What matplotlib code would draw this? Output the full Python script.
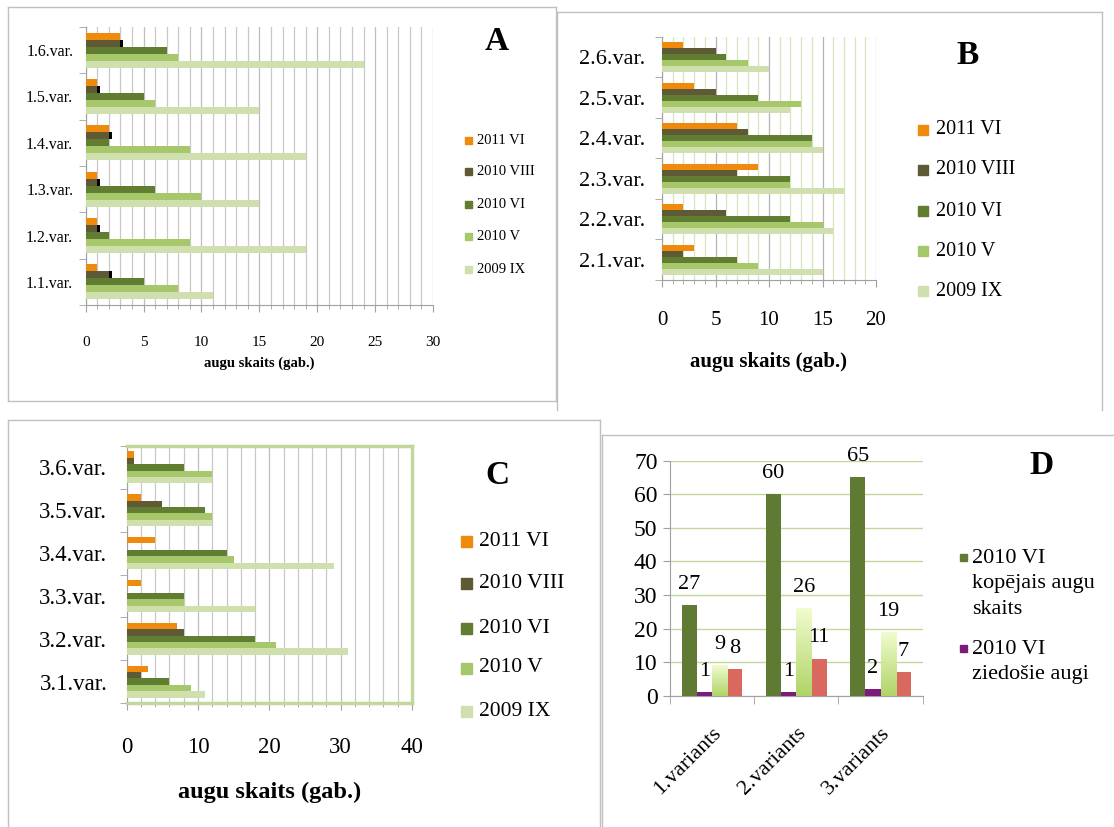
import matplotlib
matplotlib.use('Agg')
import matplotlib.pyplot as plt
import numpy as np
from matplotlib.patches import Rectangle
from matplotlib.lines import Line2D
from matplotlib.ticker import MultipleLocator, FixedLocator
from matplotlib.colors import LinearSegmentedColormap

plt.rcParams['font.family'] = ['Liberation Serif', 'DejaVu Serif']

# ---------------- data ----------------
series = ['2011 VI', '2010 VIII', '2010 VI', '2010 V', '2009 IX']
series_colors = ['#F08A0C', '#5E5A36', '#607D32', '#A6C86B', '#CFE0AE']

a_cats = ['1.1.var.', '1.2.var.', '1.3.var.', '1.4.var.', '1.5.var.', '1.6.var.']
a_2011_vi = [1, 1, 1, 2, 1, 3]
a_2010_viii = [2, 1, 1, 2, 1, 3]
a_2010_vi = [5, 2, 6, 2, 5, 7]
a_2010_v = [8, 9, 10, 9, 6, 8]
a_2009_ix = [11, 19, 15, 19, 15, 24]

b_cats = ['2.1.var.', '2.2.var.', '2.3.var.', '2.4.var.', '2.5.var.', '2.6.var.']
b_2011_vi = [3, 2, 9, 7, 3, 2]
b_2010_viii = [2, 6, 7, 8, 5, 5]
b_2010_vi = [7, 12, 12, 14, 9, 6]
b_2010_v = [9, 15, 12, 14, 13, 8]
b_2009_ix = [15, 16, 17, 15, 12, 10]

c_cats = ['3.1.var.', '3.2.var.', '3.3.var.', '3.4.var.', '3.5.var.', '3.6.var.']
c_2011_vi = [3, 7, 2, 4, 2, 1]
c_2010_viii = [2, 8, 0, 0, 5, 1]
c_2010_vi = [6, 18, 8, 14, 11, 8]
c_2010_v = [9, 21, 8, 15, 12, 12]
c_2009_ix = [11, 31, 18, 29, 12, 12]

d_cats = ['1.variants', '2.variants', '3.variants']
d_total = [27, 60, 65]
d_flowering = [1, 1, 2]
d_third = [9, 26, 19]
d_fourth = [8, 11, 7]
d_labels = ['2010 VI\nkopējais augu\nskaits', '2010 VI\nziedošie augi']

# ---------------- layout helpers ----------------
W, H = 1114, 827
fig = plt.figure(figsize=(W / 100, H / 100), dpi=100)


def fx(x):
    return x / W


def fy(y):
    return 1 - y / H


def ax_rect(l, t, r, b):
    return [fx(l), fy(b), (r - l) / W, (b - t) / H]


def frame_line(x0, y0, x1, y1, color='#C0C0C0'):
    fig.add_artist(Line2D([fx(x0), fx(x1)], [fy(y0), fy(y1)],
                          transform=fig.transFigure, color=color, lw=1.0))


# panel frames
frame_line(8, 7, 556, 7); frame_line(8, 7, 8, 401)
frame_line(556, 7, 556, 401); frame_line(8, 401, 556, 401)
frame_line(557, 12, 1102, 12); frame_line(557, 12, 557, 410)
frame_line(1102, 12, 1102, 410)
frame_line(8, 420, 600, 420); frame_line(8, 420, 8, 827)
frame_line(600, 420, 600, 827)
frame_line(602, 435, 1114, 435); frame_line(602, 435, 602, 827)


def hpanel(rect, cats, data, xmax, major, minor, fs_cat, fs_tick, fs_lab,
           minor_color, major_color, ypad, xpad, labelpad, marks=None):
    ax = fig.add_axes(rect)
    n = len(cats)
    y = np.arange(n)
    h = 0.15
    for k, (vals, col) in enumerate(zip(data, series_colors)):
        ax.barh(y + (2 - k) * h, vals, height=h, color=col, zorder=3,
                label=series[k])
    if marks is not None:
        ax.barh(y + 1 * h, [0.25] * n, left=marks, height=h, color='black', zorder=4)
    ax.set_xlim(0, xmax)
    ax.set_ylim(-0.5, n - 0.5)
    ax.set_yticks(y)
    ax.set_yticklabels(cats, fontsize=fs_cat)
    ax.yaxis.set_minor_locator(FixedLocator(np.arange(-0.5, n, 1.0)))
    ax.tick_params(axis='y', which='major', length=0, pad=ypad)
    ax.tick_params(axis='y', which='minor', length=5, color='#A0A0A0')
    ax.xaxis.set_major_locator(MultipleLocator(major))
    ax.xaxis.set_minor_locator(MultipleLocator(minor))
    ax.tick_params(axis='x', which='major', labelsize=fs_tick, length=5,
                   color='#A0A0A0', pad=xpad)
    ax.tick_params(axis='x', which='minor', length=3, color='#A0A0A0')
    ax.grid(axis='x', which='minor', color=minor_color, lw=0.9, zorder=0)
    ax.grid(axis='x', which='major', color=major_color, lw=0.9, zorder=0)
    ax.set_axisbelow(True)
    for s in ['top', 'right']:
        ax.spines[s].set_visible(False)
    for s in ['left', 'bottom']:
        ax.spines[s].set_color('#A0A0A0')
    ax.set_xlabel('augu skaits (gab.)', fontsize=fs_lab, fontweight='bold',
                  labelpad=labelpad)
    return ax


def manual_legend(x_sq, x_txt, ys, sq, fontsize, colors, labels):
    for yy, c, lab in zip(ys, colors, labels):
        fig.add_artist(Rectangle((fx(x_sq), fy(yy + sq / 2)), sq / W, sq / H,
                                 transform=fig.transFigure, color=c))
        fig.text(fx(x_txt), fy(yy), lab, fontsize=fontsize, va='center', ha='left')


# ---------------- panel A ----------------
axA = hpanel(ax_rect(85.7, 27, 433, 305), a_cats,
             [a_2011_vi, a_2010_viii, a_2010_vi, a_2010_v, a_2009_ix],
             30, 5, 1, 11.5, 11, 10.5, '#C8C8C8', '#BEBEBE', 9, 17, 6,
             marks=a_2010_viii)
manual_legend(465, 477, [140.7, 171.7, 204.3, 236, 269.3], 7, 10.5,
              series_colors, series)
fig.text(fx(497), fy(42), 'A', fontsize=24, fontweight='bold', ha='center', va='center')

# ---------------- panel B ----------------
axB = hpanel(ax_rect(662, 37, 876, 280), b_cats,
             [b_2011_vi, b_2010_viii, b_2010_vi, b_2010_v, b_2009_ix],
             20, 5, 1, 16, 15, 15, '#D7E4BD', '#B4B4B4', 12, 17, 16)
manual_legend(918, 936, [130, 170, 211, 251, 291], 10, 14.5,
              series_colors, series)
fig.text(fx(968), fy(55), 'B', fontsize=24, fontweight='bold', ha='center', va='center')

# ---------------- panel C ----------------
axC = hpanel(ax_rect(126.7, 446, 412, 703), c_cats,
             [c_2011_vi, c_2010_viii, c_2010_vi, c_2010_v, c_2009_ix],
             40, 10, 2, 16.5, 16.5, 17.5, '#C8C8C8', '#BEBEBE', 14, 19.5, 17)
for s in ['top', 'right', 'bottom']:
    axC.spines[s].set_visible(True)
    axC.spines[s].set_color('#C3D69B')
    axC.spines[s].set_linewidth(2.5)
manual_legend(461, 479, [541.7, 583.3, 628.3, 668, 711.7], 11, 15.5,
              series_colors, series)
fig.text(fx(497), fy(475), 'C', fontsize=24, fontweight='bold', ha='center', va='center')

# ---------------- panel D ----------------
axD = fig.add_axes(ax_rect(670, 460.7, 922.7, 695.7))
x = np.arange(len(d_cats))
bw = 0.18
d_series = [d_total, d_flowering, d_third, d_fourth]
d_colors = ['#5F7A32', '#7B1C7A', '#DDF3A8', '#D9685E']
d_bars = []
for k, (vals, col) in enumerate(zip(d_series, d_colors)):
    b = axD.bar(x + (k - 1.5) * bw, vals, width=bw, color=col, zorder=3)
    d_bars.append(b)
    for xi, v in zip(x + (k - 1.5) * bw, vals):
        axD.annotate(str(v), (xi, v), xytext=(0, 15), textcoords='offset points',
                     ha='center', va='center', fontsize=16, zorder=5)
# gradient fill for the light series
cmap = LinearSegmentedColormap.from_list('lg', ['#AFD466', '#F1FCCF'])
grad = np.linspace(0, 1, 256).reshape(-1, 1)
for rect in d_bars[2]:
    x0, y0 = rect.get_xy()
    im = axD.imshow(grad, extent=[x0, x0 + rect.get_width(), y0, y0 + rect.get_height()],
                    origin='lower', cmap=cmap, aspect='auto', zorder=4)
    im.set_clip_path(rect)
axD.set_xlim(-0.5, len(d_cats) - 0.5)
axD.set_ylim(0, 70)
axD.set_aspect('auto')
axD.yaxis.set_major_locator(MultipleLocator(10))
axD.tick_params(axis='y', labelsize=17, length=5, color='#A0A0A0', pad=4)
axD.grid(axis='y', color='#C3D69B', lw=1.0, zorder=0)
axD.set_axisbelow(True)
axD.set_xticks(x)
axD.set_xticklabels(d_cats, fontsize=16, rotation=45, ha='right',
                    rotation_mode='anchor')
axD.tick_params(axis='x', which='major', length=0, pad=20)
axD.xaxis.set_minor_locator(FixedLocator(np.arange(-0.5, len(d_cats), 1.0)))
axD.tick_params(axis='x', which='minor', length=6, color='#A0A0A0')
for s in ['top', 'right']:
    axD.spines[s].set_visible(False)
for s in ['left', 'bottom']:
    axD.spines[s].set_color('#A0A0A0')

# legend D (two visible entries)
for yy, c, lab in zip([557, 648], d_colors[:2], d_labels):
    fig.add_artist(Rectangle((fx(960), fy(yy + 4)), 7 / W, 7 / H,
                             transform=fig.transFigure, color=c))
    fig.text(fx(972), fy(yy - 8), lab, fontsize=16, va='top', ha='left',
             linespacing=1.45)
fig.text(fx(1042), fy(465), 'D', fontsize=24, fontweight='bold', ha='center', va='center')

fig.savefig('out.png', dpi=100)
